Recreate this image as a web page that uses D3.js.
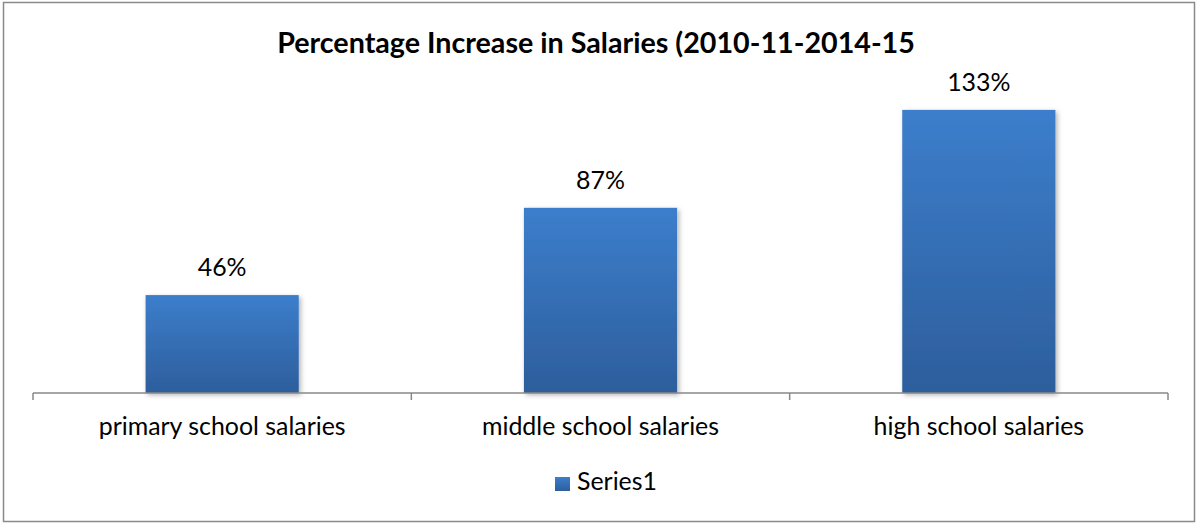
<!DOCTYPE html>
<html><head><meta charset="utf-8">
<script src="https://cdn.jsdelivr.net/npm/d3@7"></script>
<style>html,body{margin:0;padding:0;background:#fff;}svg{display:block;}</style>
</head><body>
<svg id="chart" width="1196" height="523"></svg>
<script>
const categories = ["primary school salaries", "middle school salaries", "high school salaries"];
const values = [46, 87, 133];
const valueLabels = ["46%", "87%", "133%"];
const seriesName = "Series1";
const title = "Percentage Increase in Salaries (2010-11-2014-15";

const FONT = "Lato, 'Open Sans', sans-serif";
const svg = d3.select("#chart");

const defs = svg.append("defs");
const grad = defs.append("linearGradient").attr("id","barGrad").attr("x1",0).attr("y1",0).attr("x2",0).attr("y2",1);
grad.append("stop").attr("offset","0%").attr("stop-color","#3C7ECC");
grad.append("stop").attr("offset","100%").attr("stop-color","#2D5E9C");
const lg = defs.append("linearGradient").attr("id","legGrad").attr("x1",0).attr("y1",0).attr("x2",0).attr("y2",1);
lg.append("stop").attr("offset","0%").attr("stop-color","#3C7ECC");
lg.append("stop").attr("offset","100%").attr("stop-color","#2D5E9C");
const f = defs.append("filter").attr("id","shadow").attr("x","-10%").attr("y","-10%").attr("width","130%").attr("height","130%");
f.append("feDropShadow").attr("dx",2).attr("dy",2).attr("stdDeviation",2.5).attr("flood-color","#000").attr("flood-opacity",0.3);

// border
svg.append("rect").attr("x",3.5).attr("y",2.5).attr("width",1191).attr("height",519)
  .attr("fill","#fff").attr("stroke","#8a8a8a").attr("stroke-width",1.5);

const x = d3.scaleBand().domain(categories).range([33, 1168]).padding(0);
const y = d3.scaleLinear().domain([0, 140]).range([393, 95]);
const barW = x.bandwidth() / 2.47;

function fitSize(text, weight, baseSize, target) {
  const t = svg.append("text").attr("font-family", FONT).attr("font-weight", weight)
    .attr("font-size", baseSize).text(text);
  const w = t.node().getComputedTextLength();
  t.remove();
  return w > 0 ? baseSize * target / w : baseSize;
}
const labelSize = fitSize(categories[0], "normal", 21, 247);
const titleSize = fitSize(title, "bold", 26, 638);

// title
svg.append("text").attr("x", 596).attr("y", 53).attr("text-anchor","middle")
  .attr("font-family", FONT).attr("font-weight","bold").attr("font-size", titleSize).attr("fill","#000")
  .text(title);

// bars
svg.append("g").selectAll("rect").data(values).join("rect")
  .attr("x", (d,i) => x(categories[i]) + x.bandwidth()/2 - barW/2)
  .attr("y", d => y(d))
  .attr("width", barW)
  .attr("height", d => y(0) - y(d))
  .attr("fill","url(#barGrad)")
  .attr("filter","url(#shadow)");

// axis
const axis = d3.axisBottom(x).tickSize(0).tickFormat("");
const ag = svg.append("g").attr("transform","translate(0,393)").call(axis);
ag.select(".domain").attr("stroke","#888").attr("stroke-width",1.5).attr("d","M33,0H1168");
const bounds = [33].concat(categories.map(c => x(c) + x.bandwidth()));
svg.append("g").selectAll("line").data(bounds).join("line")
  .attr("x1", d => d).attr("x2", d => d).attr("y1", 393).attr("y2", 400)
  .attr("stroke","#888").attr("stroke-width",1.5);

// category labels
svg.append("g").selectAll("text").data(categories).join("text")
  .attr("x", d => x(d) + x.bandwidth()/2).attr("y", 435)
  .attr("text-anchor","middle").attr("font-family", FONT).attr("font-size", labelSize).attr("fill","#000")
  .text(d => d);

// value labels
svg.append("g").selectAll("text").data(values).join("text")
  .attr("x", (d,i) => x(categories[i]) + x.bandwidth()/2).attr("y", d => y(d) - 19)
  .attr("text-anchor","middle").attr("font-family", FONT).attr("font-size", labelSize).attr("fill","#000")
  .text((d,i) => valueLabels[i]);

// legend
svg.append("rect").attr("x",555).attr("y",477).attr("width",15).attr("height",14).attr("fill","url(#legGrad)");
svg.append("text").attr("x",577).attr("y",490).attr("font-family", FONT).attr("font-size",labelSize).attr("fill","#000").text(seriesName);
</script>
</body></html>
